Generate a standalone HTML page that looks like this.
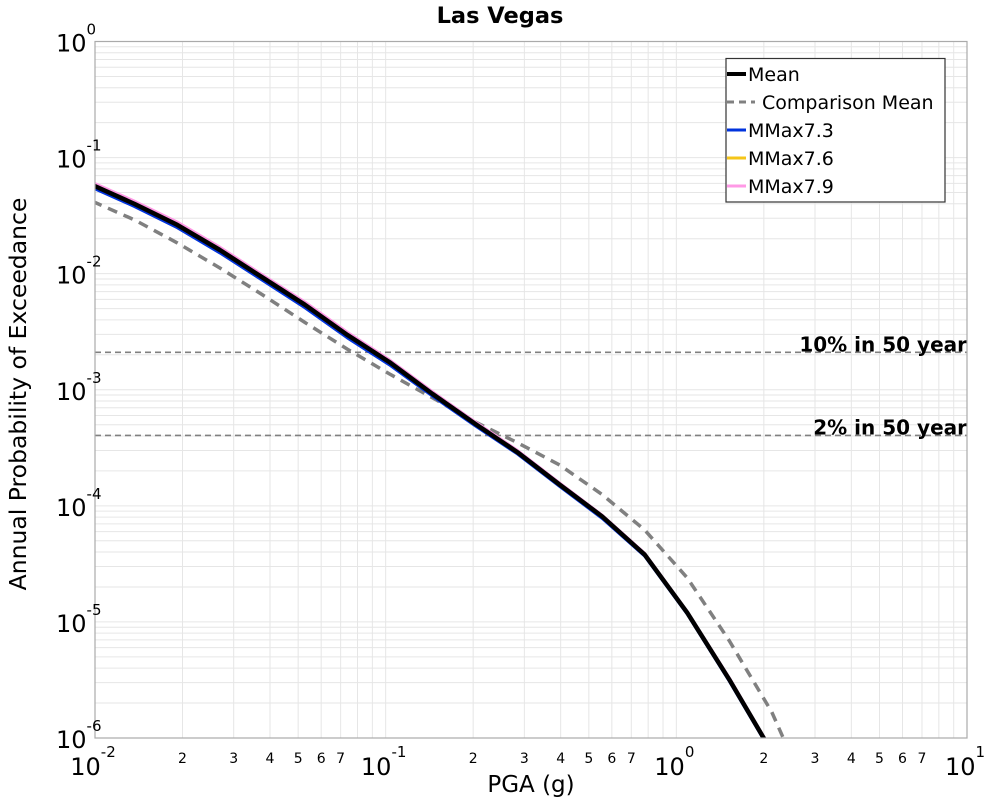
<!DOCTYPE html>
<html><head><meta charset="utf-8"><style>
body{margin:0;background:#fff;}
svg text{font-family:"DejaVu Sans","Liberation Sans",sans-serif;}
</style></head><body>
<svg id="chart" width="1000" height="800" viewBox="0 0 1000 800" xmlns="http://www.w3.org/2000/svg">
<rect width="1000" height="800" fill="#fff"/>
<g id="grid"></g>
<g id="refs"></g>
<g id="series"></g>
<rect x="95" y="41.5" width="872" height="696.5" fill="none" stroke="#aaa" stroke-width="1.2"/>
<g id="axes"></g>
<text x="500" y="23" text-anchor="middle" font-size="22.5" font-weight="bold">Las Vegas</text>
<text x="531" y="792" text-anchor="middle" font-size="23">PGA (g)</text>
<text transform="translate(26,394) rotate(-90)" text-anchor="middle" font-size="23.5">Annual Probability of Exceedance</text>
<g>
<rect x="726" y="58.5" width="219" height="143.5" fill="#fff" stroke="#333" stroke-width="1.2"/>
<line x1="727" y1="74" x2="746" y2="74" stroke="#000" stroke-width="4"/>
<text x="748" y="81" font-size="19">Mean</text>
<line x1="727" y1="102" x2="755" y2="102" stroke="#808080" stroke-width="3" stroke-dasharray="7,5"/>
<text x="762" y="109" font-size="19">Comparison Mean</text>
<line x1="727" y1="130" x2="746" y2="130" stroke="#0033dd" stroke-width="3"/>
<text x="748" y="137" font-size="19">MMax7.3</text>
<line x1="727" y1="158" x2="746" y2="158" stroke="#f5c518" stroke-width="3"/>
<text x="748" y="165" font-size="19">MMax7.6</text>
<line x1="727" y1="186" x2="746" y2="186" stroke="#ff99e6" stroke-width="3"/>
<text x="748" y="193" font-size="19">MMax7.9</text>
</g>
</svg>
<script>
const pga = [0.0098,0.0137,0.0192,0.0269,0.0376,0.0527,0.0738,0.103,0.145,0.203,0.284,0.397,0.556,0.778,1.09,1.52,2.13];
const meanVals = [0.058,0.0398,0.0263,0.016,0.0093,0.0054,0.00297,0.00173,9.2e-4,5.1e-4,2.9e-4,1.52e-4,8.1e-5,3.8e-5,1.2e-5,3.2e-6,7.6e-7];
const mmax73Vals = [0.055,0.0378,0.0249,0.0151,0.0088,0.0051,0.0028,0.00164,8.8e-4,4.9e-4,2.8e-4,1.47e-4,7.8e-5,3.7e-5,1.17e-5,3.1e-6,7.4e-7];
const mmax76Vals = [0.058,0.0398,0.0263,0.016,0.0093,0.0054,0.00297,0.00173,9.2e-4,5.1e-4,2.9e-4,1.52e-4,8.1e-5,3.8e-5,1.2e-5,3.2e-6,7.6e-7];
const mmax79Vals = [0.061,0.042,0.0278,0.0169,0.0098,0.0057,0.00313,0.00181,9.6e-4,5.3e-4,3.0e-4,1.57e-4,8.3e-5,3.9e-5,1.23e-5,3.3e-6,7.8e-7];
const compPga = [0.0098,0.0137,0.0192,0.0269,0.0376,0.0527,0.0738,0.103,0.145,0.203,0.284,0.397,0.556,0.778,1.09,1.52,2.13,2.98];
const compVals = [0.042,0.029,0.0184,0.0112,0.0066,0.0038,0.00224,0.00137,8.5e-4,5.3e-4,3.5e-4,2.25e-4,1.25e-4,6.2e-5,2.4e-5,6.9e-6,1.67e-6,2.5e-7];
const refVals = [2.1e-3, 4.04e-4];
const refLabels = ["10% in 50 year","2% in 50 year"];
const xDecades = [-2,-1,0,1];
const yDecades = [0,-1,-2,-3,-4,-5,-6];

const L=95,R=967,T=41.5,B=738;
const xs=v=>L+(Math.log10(v)+2)/3*(R-L);
const ys=v=>T+(-Math.log10(v))/6*(B-T);
const NS="http://www.w3.org/2000/svg";
function mk(tag,attrs,parent){const e=document.createElementNS(NS,tag);for(const k in attrs)e.setAttribute(k,attrs[k]);parent.appendChild(e);return e;}
const grid=document.getElementById('grid'),axes=document.getElementById('axes'),series=document.getElementById('series'),refs=document.getElementById('refs');
for(let d=-2;d<1;d++)for(let m=1;m<10;m++){const x=xs(m*Math.pow(10,d));
 const g=mk('line',{x1:x,x2:x,y1:T,y2:B,stroke:'#e6e6e6','stroke-width':1},grid);
 
 if(m>1&&m<8){const t=mk('text',{x:x,y:763,'text-anchor':'middle','font-size':14},axes);t.textContent=m;
 }}
for(let d=-6;d<0;d++)for(let m=1;m<10;m++){const y=ys(m*Math.pow(10,d));
 const g=mk('line',{x1:L,x2:R,y1:y,y2:y,stroke:'#e6e6e6','stroke-width':1},grid);
 }
xDecades.forEach(d=>{const x=xs(Math.pow(10,d));const t=mk('text',{x:x-2,y:775,'text-anchor':'middle','font-size':24},axes);
 t.textContent='10';const s=mk('tspan',{dy:-18,'font-size':15},t);s.textContent=d;
 });
yDecades.forEach(d=>{const y=ys(Math.pow(10,d));const t=mk('text',{x:56,y:y+10,'text-anchor':'start','font-size':24},axes);
 t.textContent='10';const s=mk('tspan',{dy:-17,'font-size':15},t);s.textContent=d;
 });
refVals.forEach((v,i)=>{const y=ys(v);
 const l=mk('line',{x1:L,x2:R,y1:y,y2:y,stroke:'#808080','stroke-width':1.6,'stroke-dasharray':'6,4'},refs);
 
 const t=mk('text',{x:967,y:y-1,'text-anchor':'end','font-size':20,'font-weight':'bold'},refs);t.textContent=refLabels[i];
 });
mk('clipPath',{id:'clip'},series).appendChild((()=>{const r=document.createElementNS(NS,'rect');r.setAttribute('x',L);r.setAttribute('y',T);r.setAttribute('width',R-L);r.setAttribute('height',B-T);return r;})());
function path(xv,yv,attrs,name){const d=xv.map((x,i)=>(i?'L':'M')+xs(x).toFixed(1)+','+ys(yv[i]).toFixed(1)).join('');
 const p=mk('path',Object.assign({d:d,fill:'none','clip-path':'url(#clip)','stroke-linejoin':'round'},attrs),series);
 }
path(compPga,compVals,{stroke:'#808080','stroke-width':3.5,'stroke-dasharray':'10,7'},'comparison-mean-line');
path(pga,mmax73Vals,{stroke:'#0033dd','stroke-width':3},'mmax73-line');
path(pga,mmax79Vals,{stroke:'#ff99e6','stroke-width':3},'mmax79-line');
path(pga,mmax76Vals,{stroke:'#f5c518','stroke-width':3},'mmax76-line');
path(pga,meanVals,{stroke:'#000','stroke-width':4.5},'mean-line');
</script>
</body></html>
